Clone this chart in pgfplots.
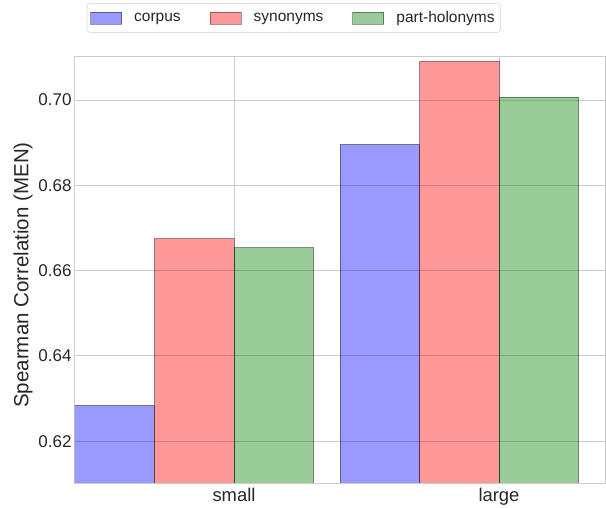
\documentclass[border=0pt]{standalone}
\usepackage{fontspec}
\setmainfont{Liberation Sans}
\usepackage{pgfplots}
\pgfplotsset{compat=1.18}
\definecolor{gridgray}{RGB}{204,204,204}
\definecolor{txt}{RGB}{38,38,38}
\definecolor{pgreen}{RGB}{0,128,0}
\begin{document}
\begin{tikzpicture}
\begin{axis}[
  name=ax,
  scale only axis,
  width=530bp, height=426bp,
  xmin=-0.6, xmax=1.4,
  ymin=0.6102, ymax=0.7101,
  ybar, bar width=0.3,
  area legend,
  legend image code/.code={\draw[#1, sharp corners] (0bp,-6bp) rectangle (31bp,6bp); \path (40bp,0bp);},
  xtick={0,1}, xticklabels={small,large},
  ytick={0.62,0.64,0.66,0.68,0.70},
  yticklabel style={/pgf/number format/fixed, /pgf/number format/fixed zerofill, /pgf/number format/precision=2, font=\fontsize{17bp}{20bp}\selectfont},
  xticklabel style={font=\fontsize{18.4bp}{21bp}\selectfont, yshift=-2bp},
  /pgf/number format/assume math mode=true,
  ticklabel style={text=txt},
  ylabel={Spearman Correlation (MEN)},
  ylabel style={font=\fontsize{20.5bp}{24bp}\selectfont, text=txt, yshift=-1bp, xshift=-5bp},
  grid=major,
  major grid style={draw=gridgray, line width=1bp},
  axis line style={draw=gridgray, line width=1bp},
  major tick length=0pt,
  tick style={draw=none},
  legend columns=3,
  legend style={at={(0.413,1.0915)}, anchor=center, draw=gridgray, rounded corners=3bp,
    font=\fontsize{15.5bp}{18bp}\selectfont, text=txt,
    nodes={inner xsep=3bp, inner ysep=2bp},
    /tikz/every even column/.append style={column sep=26bp},
    inner xsep=3bp, inner ysep=6bp},
]
\addplot[bar shift=0pt, fill=blue, fill opacity=0.4, draw=black, draw opacity=0.4, line width=1bp]
  coordinates {(-0.45,0.6284) (0.55,0.6896)};
\addlegendentry{corpus}
\addplot[bar shift=0pt, fill=red, fill opacity=0.4, draw=black, draw opacity=0.4, line width=1bp]
  coordinates {(-0.15,0.6675) (0.85,0.7091)};
\addlegendentry{synonyms}
\addplot[bar shift=0pt, fill=pgreen, fill opacity=0.4, draw=black, draw opacity=0.4, line width=1bp]
  coordinates {(0.15,0.6654) (1.15,0.7007)};
\addlegendentry{part-holonyms}
\end{axis}
\pgfresetboundingbox
\path[use as bounding box] ([shift={(-75bp,-25bp)}]ax.south west) rectangle ([shift={(1bp,57bp)}]ax.north east);
\end{tikzpicture}
\end{document}
